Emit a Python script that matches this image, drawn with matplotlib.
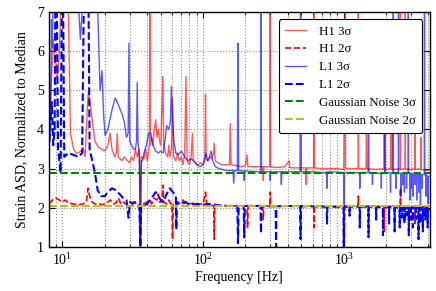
import matplotlib
matplotlib.use("Agg")
import matplotlib.pyplot as plt
from matplotlib.ticker import LogLocator, NullFormatter

plt.rcParams['font.family'] = ['Liberation Serif', 'DejaVu Serif']
plt.rcParams['mathtext.fontset'] = 'stix'

# ---------------- data (frequency [Hz], normalized ASD) ----------------
H1_3S = [(8.0, 3.9), (8.3, 5.0), (8.6, 6.3), (8.9, 5.8), (9.2, 5.3), (9.5, 6.0), (9.8, 7.5),
         (10.5, 8.0), (11.0, 7.2), (11.4, 3.9), (12.0, 3.5), (12.5, 3.4), (13.0, 3.4), (13.5, 3.45),
         (14.0, 3.55), (14.5, 3.3), (15.0, 4.5), (15.3, 5.0), (15.8, 4.6), (16.3, 4.2), (17.0, 3.7),
         (18.0, 3.55), (19.0, 3.5), (20.0, 3.45), (21.0, 3.6), (21.8, 3.9), (22.5, 3.5), (23.5, 3.3),
         (24.2, 3.4), (24.5, 3.9), (24.9, 3.3), (26.5, 3.2), (27.5, 3.3), (29.0, 3.2), (30.0, 3.15),
         (31.0, 3.3), (32.0, 3.2), (33.0, 3.5), (34.0, 3.3), (35.2, 3.5), (35.8, 1.0), (36.3, 3.3),
         (37.0, 3.3), (38.0, 3.25), (39.0, 3.5), (40.0, 3.2), (41.5, 3.6), (41.8, 7.5), (42.1, 3.6),
         (43.0, 3.8), (44.0, 3.6), (45.0, 4.0), (46.0, 4.25), (47.0, 3.8), (48.0, 4.0), (49.0, 3.7),
         (50.0, 3.6), (51.7, 5.35), (52.5, 3.6), (54.0, 3.4), (56.0, 3.3), (57.0, 3.6), (58.0, 3.3),
         (59.5, 3.5), (60.6, 4.8), (61.5, 3.4), (62.0, 3.3), (64.0, 3.2), (66.0, 3.4), (68.0, 3.2),
         (70.0, 3.3), (72.0, 3.1), (74.0, 3.4), (75.5, 5.35), (77.0, 3.2), (80.0, 3.1), (82.0, 3.3),
         (84.0, 3.9), (85.0, 3.2), (88.0, 3.15), (92.0, 3.1), (96.0, 3.15), (100.0, 3.1), (103.0, 3.2),
         (104.0, 4.9), (105.0, 3.25), (108.0, 3.2), (112.0, 3.3), (115.0, 3.25), (118.0, 3.35),
         (120.0, 3.65), (122.0, 3.2), (128.0, 3.15), (135.0, 3.1), (145.0, 3.1), (154.0, 3.1),
         (156.0, 4.15), (158.0, 3.1), (170.0, 3.08), (185.0, 3.05), (200.0, 3.08), (205.0, 3.35),
         (208.0, 3.05), (230.0, 3.05), (255.0, 3.05), (266.0, 3.05), (268.0, 2.7), (270.0, 3.05),
         (298.0, 3.05), (300.0, 7.5), (302.0, 3.05), (330.0, 3.03), (380.0, 3.05), (410.0, 3.2),
         (412.0, 3.03), (450.0, 3.02), (520.0, 3.02), (535.0, 3.02), (540.0, 2.6), (545.0, 3.02),
         (610.0, 3.02), (614.0, 7.5), (618.0, 3.02), (700.0, 3.0), (800.0, 3.0), (900.0, 3.0),
         (1000.0, 2.98), (1020.0, 7.5), (1030.0, 3.0), (1150.0, 3.0), (1265.0, 3.0), (1270.0, 7.5),
         (1275.0, 3.0), (1440.0, 3.0), (1450.0, 4.8), (1460.0, 3.0), (1700.0, 2.98), (1935.0, 3.0),
         (1940.0, 5.5), (1945.0, 2.98), (2150.0, 3.0), (2160.0, 5.8), (2170.0, 3.0), (2200.0, 5.0),
         (2210.0, 2.98), (2520.0, 3.0), (2530.0, 7.5), (2540.0, 2.98), (2735.0, 3.0), (2740.0, 7.5),
         (2745.0, 3.0), (3000.0, 2.98), (3190.0, 3.0), (3200.0, 4.6), (3210.0, 2.98), (3520.0, 3.0),
         (3530.0, 3.8), (3545.0, 2.98), (3800.0, 2.95), (4096.0, 2.98)]

H1_2S = [(8.0, 2.1), (8.5, 2.2), (9.0, 2.25), (9.5, 2.2), (10.0, 2.15), (10.5, 2.2), (11.0, 2.12),
         (12.0, 2.1), (13.0, 2.08), (14.0, 2.1), (14.8, 2.15), (15.2, 2.5), (15.6, 2.3), (16.2, 2.15),
         (17.0, 2.1), (18.0, 2.12), (19.0, 2.08), (20.0, 2.1), (21.0, 2.15), (22.0, 2.2), (23.0, 2.1),
         (24.0, 2.12), (25.0, 2.25), (26.0, 2.1), (27.0, 2.15), (28.0, 2.1), (30.0, 2.12), (32.0, 2.15),
         (34.0, 2.1), (35.2, 2.1), (35.8, 1.0), (36.3, 2.1), (37.5, 2.1), (40.0, 2.15), (42.0, 2.2),
         (43.0, 2.1), (45.0, 2.25), (47.0, 2.2), (48.0, 2.35), (49.0, 2.15), (51.0, 2.15), (51.7, 2.58),
         (52.4, 2.15), (55.0, 2.1), (57.0, 2.2), (59.0, 2.1), (60.0, 2.1), (60.6, 1.2), (61.2, 2.1),
         (64.0, 2.15), (66.0, 2.1), (70.0, 2.12), (72.0, 2.2), (75.0, 2.1), (80.0, 2.1), (85.0, 2.12),
         (90.0, 2.08), (95.0, 2.1), (100.0, 2.1), (104.0, 2.4), (106.0, 2.08), (110.0, 2.08),
         (119.0, 2.05), (120.0, 1.2), (121.0, 2.05), (140.0, 2.06), (160.0, 2.05), (205.0, 2.05),
         (207.0, 1.5), (209.0, 2.05), (265.0, 2.05), (268.0, 1.7), (270.0, 2.05), (298.0, 2.05),
         (300.0, 2.4), (302.0, 2.05), (330.0, 2.04), (400.0, 2.05), (500.0, 2.04), (612.0, 2.05),
         (615.0, 1.5), (618.0, 2.04), (700.0, 2.05), (1005.0, 2.03), (1010.0, 1.2), (1015.0, 2.04),
         (1265.0, 2.04), (1270.0, 2.3), (1275.0, 2.04), (1500.0, 2.04), (1935.0, 2.04), (1940.0, 1.4),
         (1945.0, 2.04), (2400.0, 2.04), (2525.0, 2.04), (2530.0, 2.5), (2535.0, 2.04), (3000.0, 2.03),
         (3195.0, 2.03), (3200.0, 1.6), (3205.0, 2.03), (3500.0, 2.03), (4096.0, 2.03)]

L1_3S = [(8.0, 3.5), (8.2, 3.9), (8.35, 6.8), (8.45, 6.1), (8.6, 7.5), (9.0, 8.0), (12.5, 8.0),
         (13.0, 7.2), (13.4, 6.3), (13.8, 7.0), (14.2, 8.0), (17.5, 8.0), (18.0, 6.5), (18.5, 5.0),
         (19.1, 5.5), (19.6, 4.4), (20.1, 3.85), (21.0, 4.0), (22.5, 4.5), (23.7, 4.8), (24.5, 4.7),
         (25.5, 4.55), (26.5, 4.4), (27.5, 4.2), (28.5, 3.8), (29.3, 3.9), (29.7, 6.2), (30.1, 3.7),
         (31.0, 3.6), (32.0, 3.5), (33.0, 3.5), (33.6, 3.7), (34.0, 5.2), (34.4, 3.7), (35.2, 3.3),
         (35.8, 1.05), (36.3, 3.2), (37.0, 3.2), (38.0, 3.4), (39.5, 3.6), (41.0, 3.9), (42.5, 3.9),
         (44.0, 3.6), (46.0, 3.45), (48.0, 3.4), (50.0, 3.45), (52.0, 3.4), (54.0, 3.8), (55.0, 4.1),
         (57.0, 4.0), (58.5, 4.2), (59.5, 5.1), (60.5, 4.4), (62.0, 3.7), (64.0, 3.4), (66.0, 3.35),
         (70.0, 3.45), (74.0, 3.3), (78.0, 3.2), (82.0, 3.25), (86.0, 3.2), (90.0, 3.1), (95.0, 3.05),
         (100.0, 3.1), (103.0, 3.3), (105.0, 3.4), (108.0, 3.2), (111.0, 3.3), (114.0, 3.45),
         (117.0, 3.2), (122.0, 3.05), (130.0, 3.0), (140.0, 2.97), (150.0, 2.95), (163.0, 2.96),
         (165.0, 2.63), (167.0, 2.95), (175.0, 2.95), (177.0, 6.2), (179.0, 2.95), (194.0, 2.94),
         (196.0, 2.7), (198.0, 2.94), (230.0, 2.93), (256.0, 2.92), (258.0, 7.5), (260.0, 2.92),
         (298.0, 2.92), (300.0, 2.7), (302.0, 2.92), (357.0, 2.92), (360.0, 2.6), (363.0, 2.92),
         (420.0, 2.92), (488.0, 2.92), (493.0, 7.5), (498.0, 2.92), (600.0, 2.92), (700.0, 2.9),
         (755.0, 2.9), (760.0, 2.5), (765.0, 2.92), (900.0, 2.91), (1000.0, 2.9), (1005.0, 2.0),
         (1010.0, 2.9), (1200.0, 2.9), (1295.0, 2.9), (1300.0, 2.5), (1305.0, 2.9), (1490.0, 2.9),
         (1500.0, 5.2), (1510.0, 2.9), (1595.0, 2.9), (1600.0, 2.6), (1605.0, 2.9), (1800.0, 2.88),
         (1845.0, 2.88), (1850.0, 2.5), (1855.0, 2.88), (1955.0, 2.9), (1960.0, 4.5), (1965.0, 2.88),
         (2100.0, 2.9), (2145.0, 2.88), (2150.0, 2.4), (2155.0, 2.88), (2245.0, 2.9), (2250.0, 7.5),
         (2255.0, 2.88), (2345.0, 2.88), (2350.0, 2.5), (2355.0, 2.88), (2445.0, 2.88), (2450.0, 7.5),
         (2455.0, 2.88), (2545.0, 2.88), (2550.0, 2.3), (2555.0, 2.88), (2620.0, 2.88), (2625.0, 2.6),
         (2630.0, 2.88), (2695.0, 2.88), (2700.0, 2.4), (2705.0, 2.88), (2790.0, 2.88), (2795.0, 2.5),
         (2800.0, 2.88), (2875.0, 2.88), (2880.0, 7.5), (2885.0, 2.88), (2945.0, 2.88), (2950.0, 2.2),
         (2955.0, 2.88), (3010.0, 2.88), (3020.0, 2.5), (3030.0, 2.88), (3100.0, 2.85), (3110.0, 2.3),
         (3120.0, 2.85), (3200.0, 2.85), (3210.0, 2.6), (3220.0, 2.85), (3290.0, 2.85), (3300.0, 2.2),
         (3310.0, 2.85), (3400.0, 2.85), (3410.0, 2.4), (3420.0, 2.85), (3500.0, 2.85), (3510.0, 2.0),
         (3520.0, 2.85), (3600.0, 2.85), (3610.0, 2.5), (3620.0, 2.85), (3745.0, 2.85), (3750.0, 7.5),
         (3755.0, 2.85), (3840.0, 2.85), (3850.0, 2.3), (3860.0, 2.85), (3950.0, 2.8), (3960.0, 2.1),
         (3970.0, 2.8), (4096.0, 2.8)]

L1_2S = [(8.0, 3.4), (8.2, 4.2), (8.4, 4.7), (8.6, 3.6), (8.8, 4.0), (8.9, 7.5), (9.1, 7.5),
         (9.3, 3.5), (9.7, 2.9), (9.9, 7.5), (10.1, 7.5), (10.3, 3.3), (11.0, 3.4), (12.0, 3.35),
         (13.0, 3.3), (13.8, 3.4), (14.2, 7.5), (14.8, 7.5), (15.3, 7.5), (15.6, 3.5), (16.3, 3.2),
         (17.0, 2.9), (17.8, 2.45), (18.8, 2.3), (20.0, 2.3), (21.0, 2.4), (22.5, 2.5), (24.0, 2.45),
         (25.5, 2.35), (27.0, 2.25), (28.5, 2.2), (29.5, 1.75), (30.2, 2.15), (31.5, 2.1), (33.0, 2.15),
         (34.5, 2.05), (35.2, 2.05), (35.8, 1.0), (36.3, 2.05), (37.5, 2.05), (40.0, 2.1), (42.0, 2.2),
         (44.0, 2.3), (46.0, 2.4), (48.0, 2.3), (50.0, 2.2), (52.0, 2.15), (55.0, 2.35), (58.0, 2.5),
         (61.0, 2.4), (64.0, 2.3), (64.5, 1.45), (65.0, 2.15), (70.0, 2.1), (75.0, 2.15), (80.0, 2.08),
         (90.0, 2.1), (100.0, 2.08), (110.0, 2.1), (120.0, 2.08), (140.0, 2.05), (175.0, 2.05),
         (177.0, 1.1), (179.0, 2.05), (194.0, 2.05), (196.0, 1.25), (198.0, 2.05), (230.0, 2.05),
         (256.0, 2.05), (258.0, 1.35), (260.0, 2.05), (300.0, 2.04), (328.0, 2.04), (330.0, 1.0),
         (332.0, 2.04), (400.0, 2.05), (490.0, 2.04), (493.0, 1.2), (496.0, 2.04), (600.0, 2.04),
         (700.0, 2.03), (755.0, 2.03), (760.0, 1.6), (765.0, 2.03), (995.0, 2.03), (1000.0, 1.0),
         (1005.0, 2.03), (1095.0, 2.03), (1100.0, 1.8), (1105.0, 2.03), (1295.0, 2.03), (1300.0, 1.5),
         (1305.0, 2.03), (1495.0, 2.03), (1500.0, 1.25), (1505.0, 2.03), (1695.0, 2.03), (1700.0, 1.7),
         (1705.0, 2.02), (1895.0, 2.02), (1900.0, 1.3), (1905.0, 2.02), (2095.0, 2.02), (2100.0, 1.6),
         (2105.0, 2.02), (2295.0, 2.02), (2300.0, 1.4), (2305.0, 2.02), (2495.0, 2.0), (2500.0, 1.5),
         (2505.0, 2.0), (2595.0, 2.0), (2600.0, 1.75), (2605.0, 2.0), (2695.0, 2.0), (2700.0, 1.6),
         (2705.0, 2.0), (2795.0, 2.0), (2800.0, 1.8), (2805.0, 2.0), (2895.0, 2.0), (2900.0, 1.3),
         (2905.0, 2.0), (2995.0, 2.0), (3000.0, 1.7), (3010.0, 2.0), (3090.0, 2.0), (3100.0, 1.5),
         (3110.0, 2.0), (3240.0, 2.0), (3250.0, 1.7), (3260.0, 2.0), (3390.0, 2.0), (3400.0, 1.2),
         (3410.0, 2.0), (3490.0, 2.0), (3500.0, 1.6), (3510.0, 2.0), (3640.0, 2.0), (3650.0, 1.4),
         (3660.0, 2.0), (3790.0, 2.0), (3800.0, 1.7), (3810.0, 2.0), (3940.0, 2.0), (3950.0, 1.5),
         (3960.0, 2.0), (4096.0, 1.95)]

GAUSS_3S = 2.9
GAUSS_2S = 2.05

LABELS = ["H1 3σ", "H1 2σ", "L1 3σ", "L1 2σ", "Gaussian Noise 3σ", "Gaussian Noise 2σ"]

# ---------------- figure ----------------
fig = plt.figure(figsize=(4.36, 2.91), dpi=100)
ax = fig.add_axes([0.112, 0.151, 0.874, 0.808])


def xy(series):
    return [p[0] for p in series], [p[1] for p in series]


ax.plot(*xy(H1_3S), color='r', lw=1.0, alpha=0.65, label=LABELS[0])
ax.plot(*xy(H1_2S), color='r', lw=1.2, ls='--', label=LABELS[1])
ax.plot(*xy(L1_3S), color='b', lw=1.0, alpha=0.65, label=LABELS[2])
ax.plot(*xy(L1_2S), color='b', lw=1.5, ls='--', label=LABELS[3])
ax.axhline(GAUSS_3S, color='g', lw=1.5, ls='--', label=LABELS[4])
ax.axhline(GAUSS_2S, color='y', lw=1.5, ls='--', label=LABELS[5])

ax.set_xscale('log')
ax.set_xlim(8, 4096)
ax.set_ylim(1, 7)
ax.set_yticks([1, 2, 3, 4, 5, 6, 7])
ax.xaxis.set_minor_locator(LogLocator(base=10, subs=range(2, 10)))
ax.xaxis.set_minor_formatter(NullFormatter())

ax.grid(True, which='major', axis='both', color='0.55', ls=':', lw=0.8)
ax.grid(True, which='minor', axis='x', color='0.55', ls=':', lw=0.8)

ax.tick_params(which='both', direction='in', top=True, right=True, labelsize=10)
ax.tick_params(which='major', length=4)
ax.tick_params(which='minor', length=2)
for s in ax.spines.values():
    s.set_linewidth(1.0)

ax.set_xlabel('Frequency [Hz]', fontsize=10, labelpad=2)
ax.set_ylabel('Strain ASD, Normalized to Median', fontsize=10, labelpad=6)

leg = ax.legend(loc='upper right', fontsize=9.3, frameon=True, fancybox=True,
                framealpha=1, edgecolor='k', handlelength=1.6, handletextpad=1.0,
                labelspacing=0.45, borderpad=0.5, bbox_to_anchor=(0.997, 0.997))
leg.get_frame().set_linewidth(0.8)

fig.savefig('out.png', dpi=100)
